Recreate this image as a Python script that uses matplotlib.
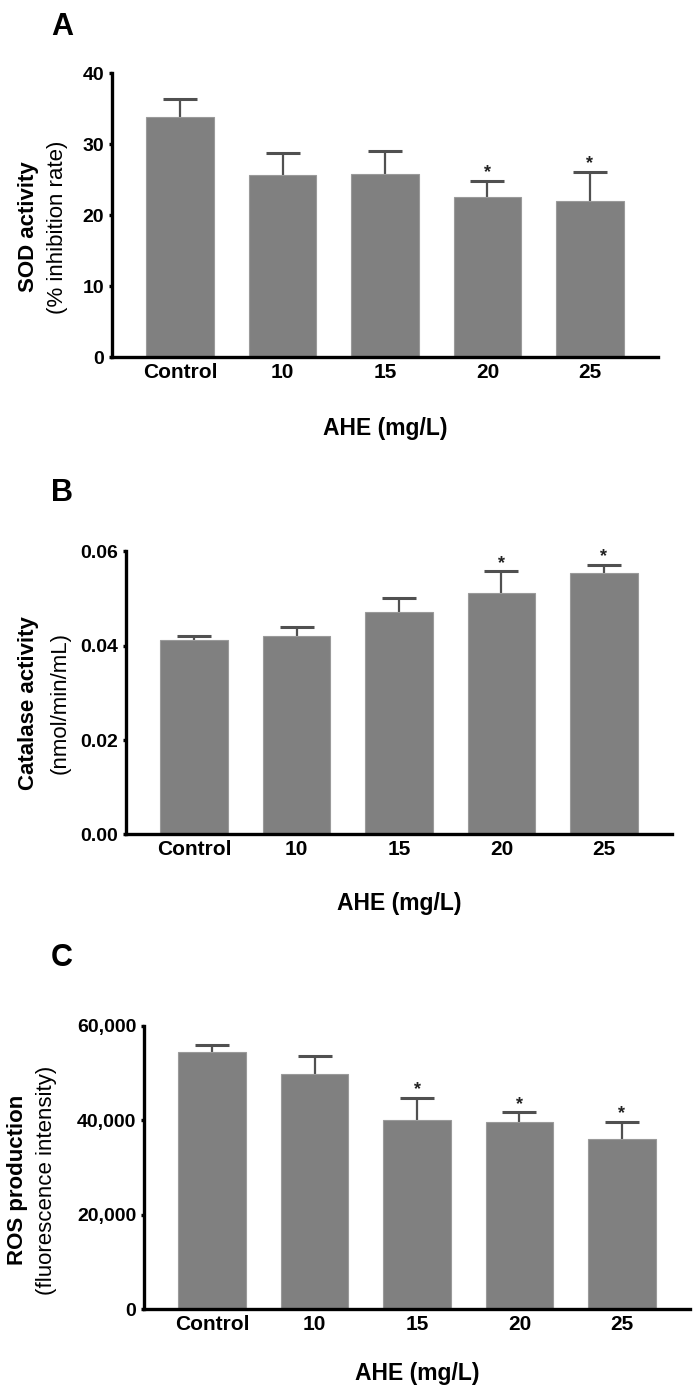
import numpy as np
import matplotlib
matplotlib.use("Agg")
import matplotlib.pyplot as plt

plt.rcParams['font.family'] = ['Liberation Sans', 'DejaVu Sans']

groups = ["Control", "10", "15", "20", "25"]

sod_mean = [33.8, 25.6, 25.8, 22.6, 22.0]
sod_sem = [2.5, 3.1, 3.25, 2.2, 4.1]
sod_sig = [False, False, False, True, True]
sod_ticks = [0, 10, 20, 30, 40]
sod_ticklabels = ["0", "10", "20", "30", "40"]

cat_mean = [0.0413, 0.0421, 0.0471, 0.0511, 0.0555]
cat_sem = [0.0008, 0.0019, 0.0031, 0.0047, 0.0017]
cat_sig = [False, False, False, True, True]
cat_ticks = [0.0, 0.02, 0.04, 0.06]
cat_ticklabels = ["0.00", "0.02", "0.04", "0.06"]

ros_mean = [54370, 49780, 40050, 39690, 36030]
ros_sem = [1550, 3750, 4720, 1990, 3600]
ros_sig = [False, False, True, True, True]
ros_ticks = [0, 20000, 40000, 60000]
ros_ticklabels = ["0", "20,000", "40,000", "60,000"]

fig = plt.figure(figsize=(6.96, 13.99), dpi=100)

BAR = "#808080"
ERR = "#505050"


def panel(rect, letter, letter_pos, means, sems, sig, ticks, ticklabels,
          ylab1, ylab2, ylab_x, ylab_y, xlab_y):
    ax = fig.add_axes(rect)
    x = np.arange(len(groups))
    lower = np.zeros(len(means))
    ax.bar(x, means, width=0.655, color=BAR, edgecolor="#9a9a9a",
           linewidth=0.8, zorder=2)
    eb = ax.errorbar(x, means, yerr=[lower, sems], fmt='none', ecolor=ERR,
                     elinewidth=1.6, capsize=12, capthick=2.2, zorder=1)
    # only the upper cap is wanted
    eb[1][0].set_visible(False)
    for i in range(len(means)):
        if sig[i]:
            ax.annotate("*", (x[i], means[i] + sems[i]), xytext=(0, 2.5),
                        textcoords="offset points", ha="center", va="baseline",
                        fontsize=13, fontweight="bold", color="#222222")

    ax.set_xlim(-0.664, len(groups) - 1 + 0.664)
    ax.set_ylim(ticks[0], ticks[-1])
    ax.set_yticks(ticks)
    ax.set_yticklabels(ticklabels, fontsize=14, fontweight="bold")
    ax.set_xticks(x)
    ax.set_xticklabels(groups, fontsize=15, fontweight="bold")
    ax.tick_params(axis="x", length=0, pad=4)
    ax.tick_params(axis="y", length=2.5, width=2.4, pad=3)

    for s in ["top", "right"]:
        ax.spines[s].set_visible(False)
    for s in ["left", "bottom"]:
        ax.spines[s].set_linewidth(2.4)
        ax.spines[s].set_capstyle("projecting")

    ax.text(ylab_x[0], ylab_y, ylab1, transform=ax.transAxes, rotation=90,
            ha="center", va="center", fontsize=16, fontweight="bold")
    ax.text(ylab_x[1], ylab_y, ylab2, transform=ax.transAxes, rotation=90,
            ha="center", va="center", fontsize=16)
    ax.text(0.5, xlab_y, "AHE (mg/L)", transform=ax.transAxes,
            ha="center", va="center", fontsize=16.5, fontweight="bold")
    fig.text(letter_pos[0], letter_pos[1], letter, ha="center", va="center",
             fontsize=22, fontweight="bold")
    return ax


panel([0.1609, 0.7448, 0.7845, 0.2030], "A", (0.0891, 0.9807),
      sod_mean, sod_sem, sod_sig, sod_ticks, sod_ticklabels,
      "SOD activity", "(% inhibition rate)", (-0.152, -0.0989), 0.458, -0.25)

panel([0.1810, 0.4036, 0.7845, 0.2023], "B", (0.0891, 0.6476),
      cat_mean, cat_sem, cat_sig, cat_ticks, cat_ticklabels,
      "Catalase activity", "(nmol/min/mL)", (-0.1777, -0.1209), 0.464, -0.244)

panel([0.2069, 0.0641, 0.7845, 0.2027], "C", (0.0891, 0.3152),
      ros_mean, ros_sem, ros_sig, ros_ticks, ros_ticklabels,
      "ROS production", "(fluorescence intensity)", (-0.2326, -0.1777), 0.456, -0.226)

fig.savefig("out.png", dpi=100)
